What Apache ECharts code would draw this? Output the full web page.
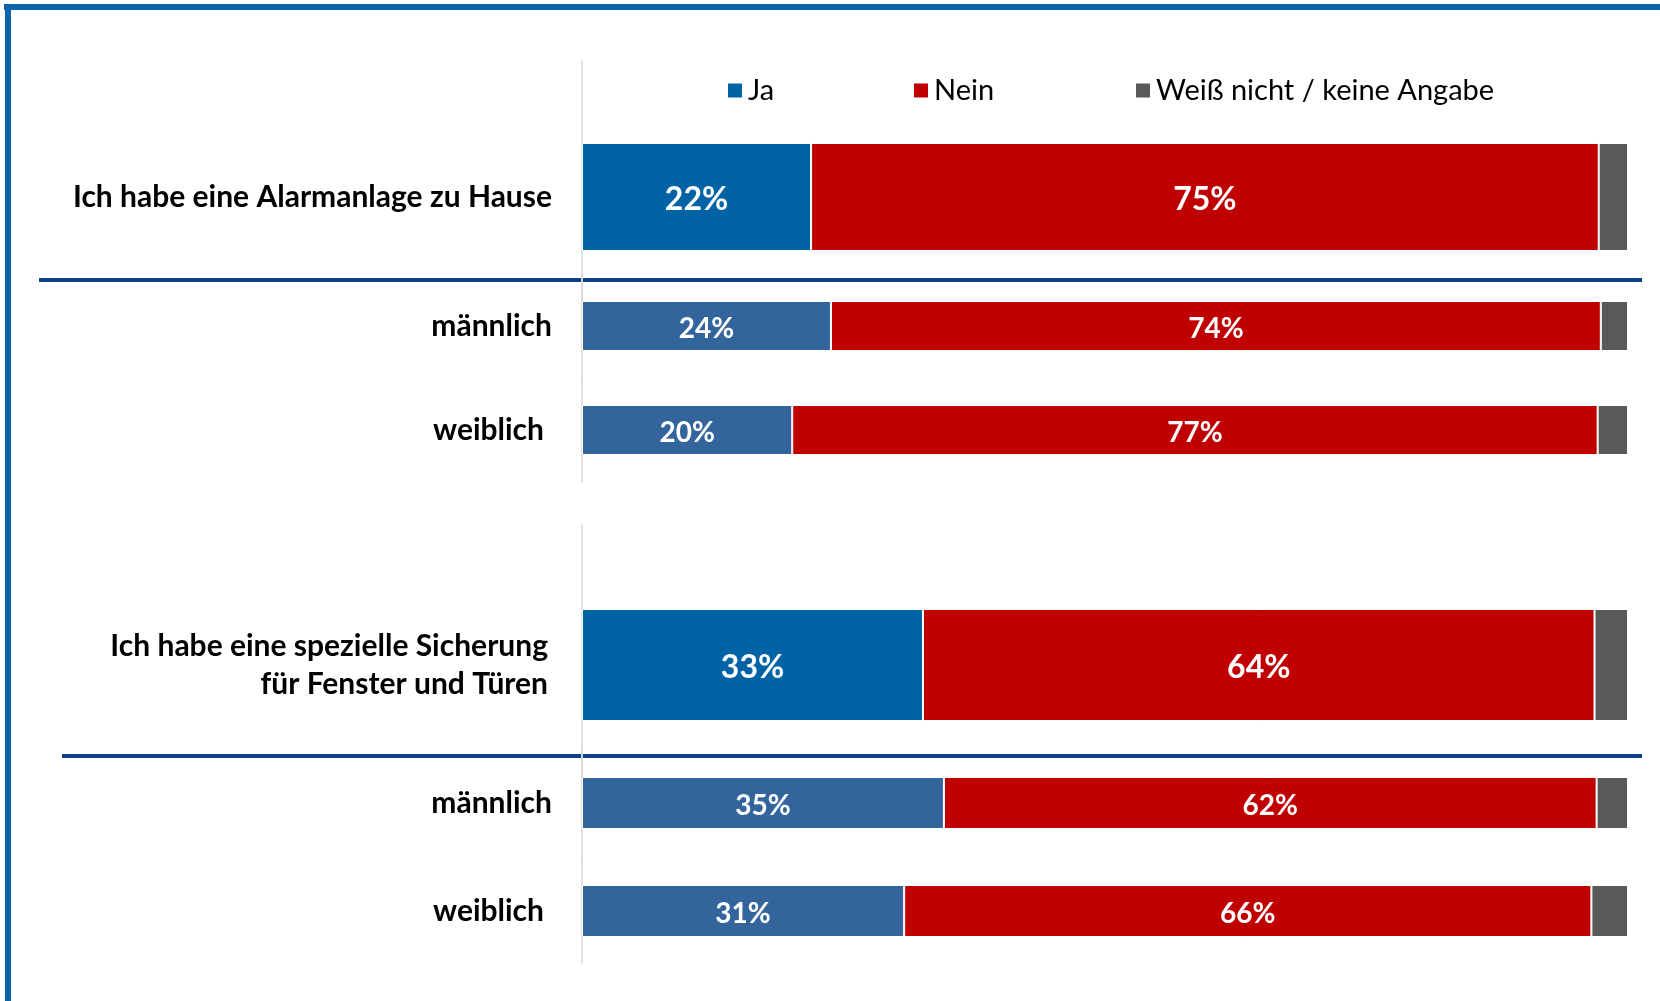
<!DOCTYPE html>
<html>
<head>
<meta charset="utf-8">
<script src="https://cdn.jsdelivr.net/npm/echarts@6/dist/echarts.min.js"></script>
<style>
  html, body { margin: 0; padding: 0; background: #fff; }
  #main { width: 1660px; height: 1001px; }
</style>
</head>
<body>
<div id="main"></div>
<script>
var categories = [
  'Ich habe eine Alarmanlage zu Hause',
  'männlich',
  'weiblich',
  'Ich habe eine spezielle Sicherung\nfür Fenster und Türen',
  'männlich',
  'weiblich'
];
var ja = [21.9, 23.8, 20.1, 32.6, 34.6, 30.8];
var nein = [75.3, 73.6, 77.0, 64.2, 62.4, 65.7];
var weissNicht = [2.8, 2.6, 2.9, 3.2, 3.0, 3.5];
var seriesNames = ['Ja', 'Nein', 'Weiß nicht / keine Angabe'];

var chartDom = document.getElementById('main');
var myChart = echarts.init(chartDom);
var option;

var FONT = 'Lato';
// one grid per row so the spacing can be irregular
var rows = [
  { top: 60, height: 274, bar: 108, margin: 30, big: true },
  { top: 274, height: 104, bar: 50, margin: 30, big: false },
  { top: 378, height: 104, bar: 50, margin: 38, big: false },
  { top: 524, height: 282, bar: 112, margin: 34, big: true },
  { top: 747, height: 112, bar: 52, margin: 30, big: false },
  { top: 859, height: 104, bar: 52, margin: 38, big: false }
];

var grids = [], xAxes = [], yAxes = [], series = [];
rows.forEach(function (r, i) {
  grids.push({ left: 582, right: 32, top: r.top, height: r.height });
  xAxes.push({ type: 'value', gridIndex: i, min: 0, max: 100, show: false });
  yAxes.push({
    type: 'category',
    gridIndex: i,
    data: [categories[i]],
    axisLine: { show: true, lineStyle: { color: '#d9d9d9', width: 1.5 } },
    axisTick: { show: false },
    axisLabel: {
      margin: r.margin,
      color: '#000',
      fontFamily: FONT,
      fontWeight: 'bold',
      fontSize: 30,
      lineHeight: 38,
      align: 'right'
    }
  });
  var vals = [ja[i], nein[i], weissNicht[i]];
  var colors = [r.big ? '#0063a6' : '#33659c', '#c00000', '#595959'];
  vals.forEach(function (v, k) {
    series.push({
      name: seriesNames[k],
      type: 'bar',
      stack: 'row' + i,
      xAxisIndex: i,
      yAxisIndex: i,
      barWidth: r.bar,
      data: [v],
      itemStyle: { color: colors[k], borderColor: '#ffffff', borderWidth: 1 },
      label: {
        show: k < 2,
        position: 'inside',
        offset: [0, 3],
        color: '#fff',
        fontFamily: FONT,
        fontWeight: 'bold',
        fontSize: r.big ? 32 : 28,
        formatter: function (p) { return Math.round(p.value) + '%'; }
      }
    });
  });
});

var legendBase = {
  top: 76,
  padding: 0,
  icon: 'rect',
  itemWidth: 16,
  itemHeight: 16,
  itemGap: 8,
  textStyle: { fontFamily: FONT, fontSize: 29, color: '#000' }
};

option = {
  animation: false,
  backgroundColor: '#fff',
  legend: [
    Object.assign({}, legendBase, { left: 726, data: ['Ja'] }),
    Object.assign({}, legendBase, { left: 912, data: ['Nein'] }),
    Object.assign({}, legendBase, { left: 1134, data: ['Weiß nicht / keine Angabe'] })
  ],
  grid: grids,
  xAxis: xAxes,
  yAxis: yAxes,
  series: series,
  graphic: [
    // frame
    { type: 'line', shape: { x1: 4, y1: 7, x2: 1660, y2: 7 }, style: { stroke: '#0a66ab', lineWidth: 6 } },
    { type: 'line', shape: { x1: 8, y1: 4, x2: 8, y2: 1001 }, style: { stroke: '#0a66ab', lineWidth: 6 } },
    // group dividers
    { type: 'line', shape: { x1: 39, y1: 280, x2: 1642, y2: 280 }, style: { stroke: '#0b3f87', lineWidth: 4 } },
    { type: 'line', shape: { x1: 62, y1: 756, x2: 1642, y2: 756 }, style: { stroke: '#0b3f87', lineWidth: 4 } }
  ]
};

option && myChart.setOption(option);
</script>
</body>
</html>
